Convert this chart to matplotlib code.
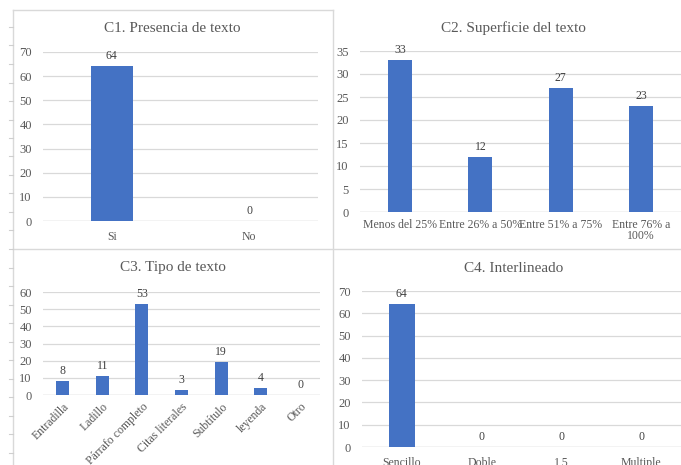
import matplotlib
matplotlib.use("Agg")
import matplotlib.pyplot as plt
from matplotlib.lines import Line2D

plt.rcParams['font.family'] = ['Liberation Serif', 'DejaVu Serif']

# ---- data ----
c1_categories = ["Si", "No"]
c1_values = [64, 0]

c2_categories = ["Menos del 25%", "Entre 26% a 50%", "Entre 51% a 75%", "Entre 76% a\n100%"]
c2_values = [33, 12, 27, 23]

c3_categories = ["Entradilla", "Ladillo", "Párrafo completo", "Citas literales",
                 "Subtítulo", "leyenda", "Otro"]
c3_values = [8, 11, 53, 3, 19, 4, 0]

c4_categories = ["Sencillo", "Doble", "1,5", "Multiple"]
c4_values = [64, 0, 0, 0]

BAR = "#4472C4"
GRID = "#D9D9D9"
TXT = "#595959"

W, H = 681, 465
fig = plt.figure(figsize=(W / 100, H / 100), dpi=100)


def px_axes(x0, x1, ytop, ybot):
    return fig.add_axes([x0 / W, 1 - ybot / H, (x1 - x0) / W, (ybot - ytop) / H])


def bar_panel(ax, cats, vals, ymax, step, width, title, title_xy,
              rot=0, label_pad=6):
    x = list(range(len(cats)))
    ax.bar(x, vals, width=width, color=BAR, zorder=3)
    ax.set_xlim(-0.5, len(cats) - 0.5)
    ax.set_ylim(0, ymax)
    ax.set_yticks(range(0, ymax + 1, step))
    ax.yaxis.grid(True, color=GRID, linewidth=0.9, zorder=0)
    for s in ax.spines.values():
        s.set_visible(False)
    ax.axhline(0, color=GRID, linewidth=1.0, zorder=2)
    ax.tick_params(axis='both', length=0, colors=TXT)
    ax.tick_params(axis='y', pad=8, labelsize=9)
    ax.tick_params(axis='x', labelsize=8.5, pad=label_pad)
    ax.set_xticks(x)
    if rot:
        ax.set_xticklabels(cats, rotation=rot, ha='right', rotation_mode='anchor')
    else:
        ax.set_xticklabels(cats, linespacing=0.95)
    for xi, v in zip(x, vals):
        ax.annotate(str(v), (xi, v), xytext=(0, 3), textcoords='offset points',
                    ha='center', va='bottom', fontsize=8.5, color='#404040')
    fig.text(title_xy[0] / W, 1 - title_xy[1] / H, title, ha='center',
             va='center', fontsize=11, color=TXT)


ax1 = px_axes(43, 318, 52, 221)
bar_panel(ax1, c1_categories, c1_values, 70, 10, 0.305,
          "C1. Presencia de texto", (172, 29), label_pad=7)

ax2 = px_axes(360, 681, 51, 212)
bar_panel(ax2, c2_categories, c2_values, 35, 5, 0.30,
          "C2. Superficie del texto", (513, 28), label_pad=5)

ax3 = px_axes(43, 320, 292, 395)
bar_panel(ax3, c3_categories, c3_values, 60, 10, 0.33,
          "C3. Tipo de texto", (173, 268), rot=45, label_pad=4)

ax4 = px_axes(362, 681, 291, 447)
bar_panel(ax4, c4_categories, c4_values, 70, 10, 0.33,
          "C4. Interlineado", (514, 268), label_pad=7)

# panel frames
BORDER = "#D9D9D9"


def fig_line(xs, ys, color=BORDER, lw=1.0):
    fig.add_artist(Line2D([x / W for x in xs], [1 - y / H for y in ys],
                          color=color, linewidth=lw))


fig_line([13, 13], [10, 465])
fig_line([13, 333], [10, 10])
fig_line([333, 333], [10, 465])
fig_line([13, 681], [249, 249])

# small ruler marks along the left edge
y = 27.0
while y < 465:
    fig_line([9, 13], [y, y], color="#CFCFCF", lw=0.8)
    y += 18.5

fig.savefig("out.png", dpi=100, facecolor="white")
